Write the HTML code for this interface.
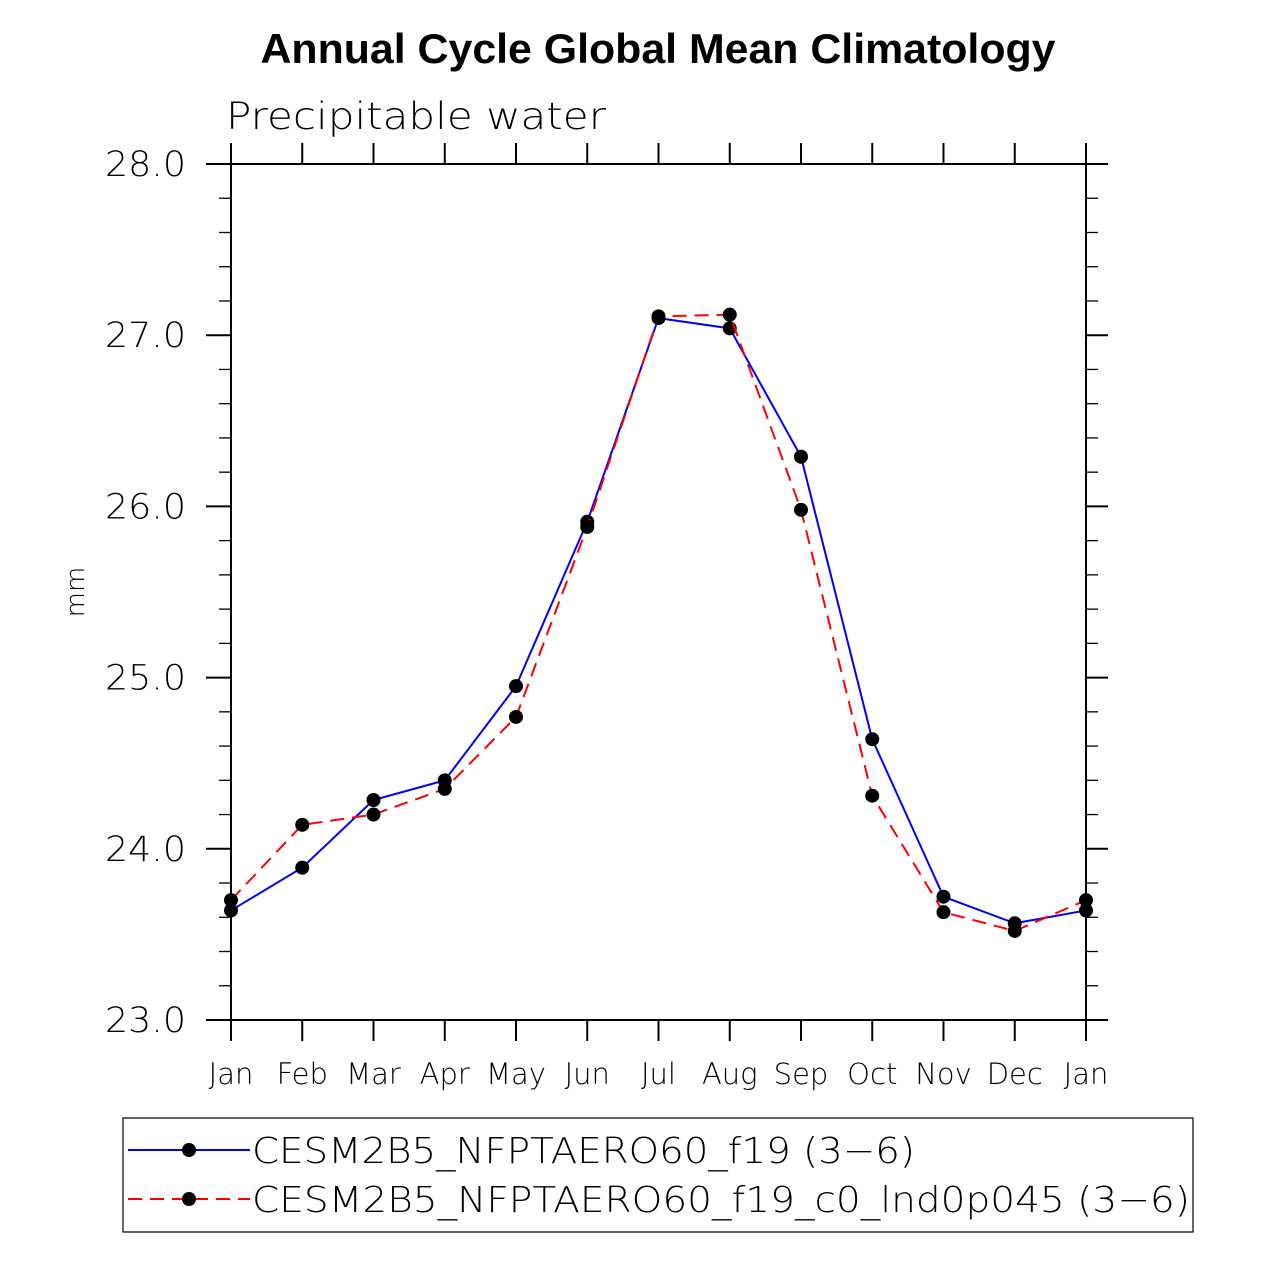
<!DOCTYPE html>
<html><head><meta charset="utf-8"><style>
html,body{margin:0;padding:0;background:#fff;}
svg{display:block;}
text{font-family:"DejaVu Sans","Liberation Sans",sans-serif;font-weight:200;}
</style></head><body>
<svg id="chart" width="1263" height="1263" xmlns="http://www.w3.org/2000/svg">
<text x="658" y="63" text-anchor="middle" font-size="42" textLength="795" lengthAdjust="spacingAndGlyphs" style="font-family:'Liberation Sans',sans-serif;font-weight:bold">Annual Cycle Global Mean Climatology</text>
<text x="226" y="129" font-size="37" textLength="380" lengthAdjust="spacingAndGlyphs" fill="#000">Precipitable water</text>
<text x="84" y="592" font-size="26" text-anchor="middle" transform="rotate(-90 84 592)">mm</text>
<g id="axes"></g>
<g id="series"></g>
<rect x="123" y="1118" width="1070" height="114" fill="none" stroke="#000" stroke-width="1.2"/>
<g>
<line x1="128" y1="1150" x2="250" y2="1150" stroke="#0000ff" stroke-width="2"/>
<circle cx="189" cy="1150" r="7" fill="#000"/>
<text x="252" y="1163" font-size="36" textLength="663" lengthAdjust="spacingAndGlyphs">CESM2B5_NFPTAERO60_f19 (3−6)</text></g>
<g>
<line x1="128" y1="1199" x2="250" y2="1199" stroke="#ff0000" stroke-width="2" stroke-dasharray="14,8"/>
<circle cx="189" cy="1199" r="7" fill="#000"/>
<text x="252" y="1212" font-size="36" textLength="938" lengthAdjust="spacingAndGlyphs">CESM2B5_NFPTAERO60_f19_c0_lnd0p045 (3−6)</text></g>
</svg>
<script>
const months=["Jan","Feb","Mar","Apr","May","Jun","Jul","Aug","Sep","Oct","Nov","Dec","Jan"];
const yTicks=[23,24,25,26,27,28];
const yTickLabels=["23.0","24.0","25.0","26.0","27.0","28.0"];
const blueVals=[23.64,23.89,24.285,24.40,24.95,25.91,27.10,27.04,26.29,24.64,23.72,23.565,23.64];
const redVals=[23.70,24.14,24.20,24.35,24.77,25.88,27.11,27.12,25.98,24.31,23.63,23.52,23.70];
const NS="http://www.w3.org/2000/svg";
const X0=231,X1=1086,Y0=1020,Y1=164;
const xs=i=>X0+(X1-X0)*i/12;
const ys=v=>Y0-(v-23)*(Y0-Y1)/5;
function mk(tag,attrs,parent){const e=document.createElementNS(NS,tag);for(const k in attrs)e.setAttribute(k,attrs[k]);parent.appendChild(e);return e;}
const ax=document.getElementById('axes');
const frame=mk('rect',{x:X0,y:Y1,width:X1-X0,height:Y0-Y1,fill:'none',stroke:'#000','stroke-width':2},ax);


months.forEach((m,i)=>{
  const x=xs(i);
  mk('line',{x1:x,y1:Y0,x2:x,y2:1041,stroke:'#000','stroke-width':2},ax);
  mk('line',{x1:x,y1:Y1,x2:x,y2:143,stroke:'#000','stroke-width':2},ax);
  const t=mk('text',{x:x,y:1084,'font-size':29,'text-anchor':'middle'},ax);
  t.textContent=m;
  
  
});
for(let k=0;k<=25;k++){
  const v=23+k*0.2,y=ys(v);
  const major=k%5===0;
  const L=major?25:12;
  mk('line',{x1:X0-L,y1:y,x2:X0,y2:y,stroke:'#000','stroke-width':major?2:1.3},ax);
  mk('line',{x1:X1,y1:y,x2:X1+L-(major?3:0),y2:y,stroke:'#000','stroke-width':major?2:1.3},ax);
}
yTicks.forEach((v,i)=>{
  const t=mk('text',{x:186,y:ys(v)+12,'font-size':35,'text-anchor':'end',textLength:81,lengthAdjust:'spacingAndGlyphs'},ax);
  t.textContent=yTickLabels[i];
  
  
});
const sg=document.getElementById('series');
function draw(vals,color,dash,name){
  const p=mk('polyline',{points:vals.map((v,i)=>xs(i)+','+ys(v)).join(' '),fill:'none',stroke:color,'stroke-width':2,'stroke-dasharray':dash},sg);
  
  
  vals.forEach((v,i)=>{
    const c=mk('circle',{cx:xs(i),cy:ys(v),r:7,fill:'#000'},sg);
    
    
  });
}
draw(blueVals,'#0000ff','none','blue-series');
draw(redVals,'#ff0000','14,8','red-series');
</script>
</body></html>
